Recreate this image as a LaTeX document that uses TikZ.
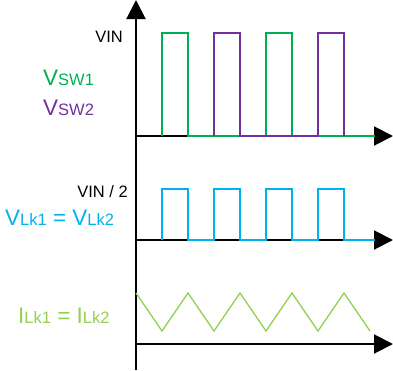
\documentclass[tikz,border=0pt]{standalone}
\usepackage{fontspec}
\setmainfont{Liberation Sans}
\usetikzlibrary{arrows.meta}
\definecolor{swgreen}{RGB}{0,176,80}
\definecolor{swpurple}{RGB}{112,48,160}
\definecolor{lkblue}{RGB}{0,176,240}
\definecolor{ilgreen}{RGB}{146,208,80}
\newcommand{\bigf}{\fontsize{22.5}{24}\selectfont}
\newcommand{\smallf}{\fontsize{16.5}{18}\selectfont}
\begin{document}
\begin{tikzpicture}[x=1pt,y=-1pt,
  axis/.style={line width=2pt,-{Triangle[length=19pt,width=19pt]}},
  trace/.style={line width=1.5pt,line join=miter},
  lbl/.style={inner sep=0pt,font=\fontsize{16.5}{18}\selectfont},
  big/.style={inner sep=0pt}]
\useasboundingbox (0,0) rectangle (393,370);
% axes
\coordinate (ybot) at (136,370);
\coordinate (ytop) at (136,0);
\coordinate (o1) at (136,136);
\coordinate (e1) at (393,136);
\coordinate (o2) at (136,240);
\coordinate (e2) at (393,240);
\coordinate (o3) at (136,344);
\coordinate (e3) at (393,344);
\draw[axis] (ybot) -- (ytop);
\draw[axis] (o1) -- (e1);
\draw[axis] (o2) -- (e2);
\draw[axis] (o3) -- (e3);
% switching node voltages
\draw[trace,swgreen] (162,136) -- (162,33) -- (188,33) -- (188,136) -- (266,136) -- (266,33) -- (292,33) -- (292,136) -- (375,136);
\draw[trace,swpurple] (214,136) -- (214,33) -- (240,33) -- (240,136) -- (318,136) -- (318,33) -- (344,33) -- (344,136);
% inductor voltage
\draw[trace,lkblue] (162,240) -- (162,189) -- (188,189) -- (188,240) -- (214,240) -- (214,189) -- (240,189) -- (240,240) -- (266,240) -- (266,189) -- (292,189) -- (292,240) -- (318,240) -- (318,189) -- (344,189) -- (344,240) -- (375,240);
% inductor current
\draw[trace,ilgreen,line width=1.3pt] (136,293) -- (162,331) -- (188,293) -- (214,331) -- (240,293) -- (266,331) -- (292,293) -- (318,331) -- (344,293) -- (370,331);
% labels
\node[lbl,anchor=base east] (vin) at (123,42) {VIN};
\node[big,anchor=base west,text=swgreen] (vsw1) at (43,85) {\bigf V\smallf SW1};
\node[big,anchor=base west,text=swpurple] (vsw2) at (43,115) {\bigf V\smallf SW2};
\node[lbl,anchor=base east] (vin2) at (128,197) {VIN / 2};
\node[big,anchor=base west,text=lkblue] (vlk) at (5,225) {\bigf V\smallf Lk1\bigf{} = V\smallf Lk2};
\node[big,anchor=base west,text=ilgreen] (ilk) at (18,323) {\bigf I\smallf Lk1\bigf{} = I\smallf Lk2};
\end{tikzpicture}
\end{document}
